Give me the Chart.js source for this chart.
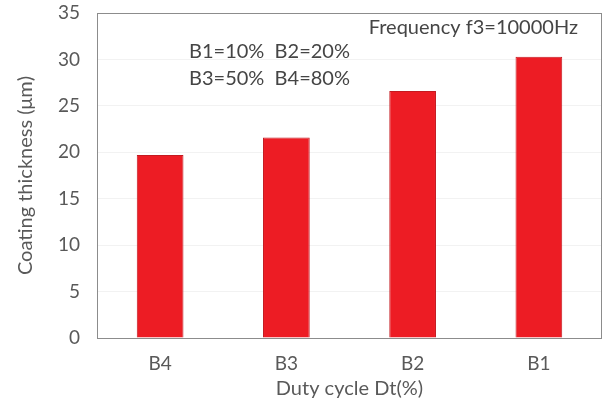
<!DOCTYPE html>
<html lang="en">

<head>
    <meta charset="UTF-8">
    <title>Coating thickness</title>
    <style>
        html, body { margin: 0; padding: 0; background: #fff; }
        #wrap { width: 604px; height: 407px; }
    </style>
</head>

<body>
    <div id="wrap"><canvas id="cvs" width="604" height="407"></canvas></div>
    <script src="https://cdn.jsdelivr.net/npm/chart.js@4.4.0/dist/chart.umd.min.js"></script>

    <script>
        const categories = ["B4", "B3", "B2", "B1"];
        const thickness = [19.7, 21.6, 26.6, 30.3];
        const yTicks = [0, 5, 10, 15, 20, 25, 30, 35];
        const noteFreq = "Frequency f3=10000Hz";
        const noteDuty = ["B1=10%  B2=20%", "B3=50%  B4=80%"];

        const textGray = "#595959";
        const font = "Lato, 'Liberation Sans', sans-serif";

        // box around the plot area + the two text notes
        const frameAndNotes = {
            id: "frameAndNotes",
            afterDraw(chart) {
                const c = chart.ctx;
                const a = chart.chartArea;
                c.save();
                c.strokeStyle = "#8c8c8c";
                c.lineWidth = 1;
                c.strokeRect(Math.round(a.left) + 0.5, Math.round(a.top) + 0.5,
                    Math.round(a.right - a.left) - 1, Math.round(a.bottom - a.top));
                c.fillStyle = "#454545";
                c.font = "20px " + font;
                c.textBaseline = "middle";
                c.textAlign = "right";
                c.fillText(noteFreq, a.right - 24, a.top + 15);
                c.textAlign = "left";
                c.fillText(noteDuty[0], a.left + 92, a.top + 39);
                c.fillText(noteDuty[1], a.left + 92, a.top + 66);
                c.restore();
            }
        };

        new Chart(document.getElementById("cvs"), {
            type: "bar",
            data: {
                labels: categories,
                datasets: [{
                    data: thickness,
                    backgroundColor: "#ed1c24",
                    borderColor: "#c41a20",
                    borderWidth: 1,
                    categoryPercentage: 0.37,
                    barPercentage: 1
                }]
            },
            options: {
                responsive: false,
                animation: false,
                layout: { padding: { top: 13, right: 2, bottom: 0, left: 0 } },
                plugins: {
                    legend: { display: false },
                    tooltip: { enabled: false }
                },
                scales: {
                    x: {
                        afterFit(axis) {
                            axis.height = 69;
                            axis.paddingLeft = 0;
                            axis.paddingRight = 0;
                        },
                        grid: { display: false, drawTicks: false },
                        border: { display: false },
                        ticks: { color: textGray, font: { family: font, size: 19 }, padding: 14 },
                        title: {
                            display: true, text: "Duty cycle Dt(%)", color: textGray,
                            font: { family: font, size: 20 }, padding: { top: 8, bottom: 6 }
                        }
                    },
                    y: {
                        min: 0, max: 35,
                        afterFit(axis) {
                            axis.width = 97;
                            axis.paddingTop = 0;
                            axis.paddingBottom = 0;
                        },
                        afterBuildTicks(axis) { axis.ticks = yTicks.map(v => ({ value: v })); },
                        grid: { color: "rgba(0,0,0,0.05)", drawTicks: false },
                        border: { display: false },
                        ticks: { color: textGray, font: { family: font, size: 19 }, padding: 17 },
                        title: {
                            display: true, text: "Coating thickness (\u03bcm)", color: textGray,
                            font: { family: font, size: 20 }, padding: { top: 14, bottom: 0 }
                        }
                    }
                }
            },
            plugins: [frameAndNotes]
        });
    </script>
</body>

</html>
